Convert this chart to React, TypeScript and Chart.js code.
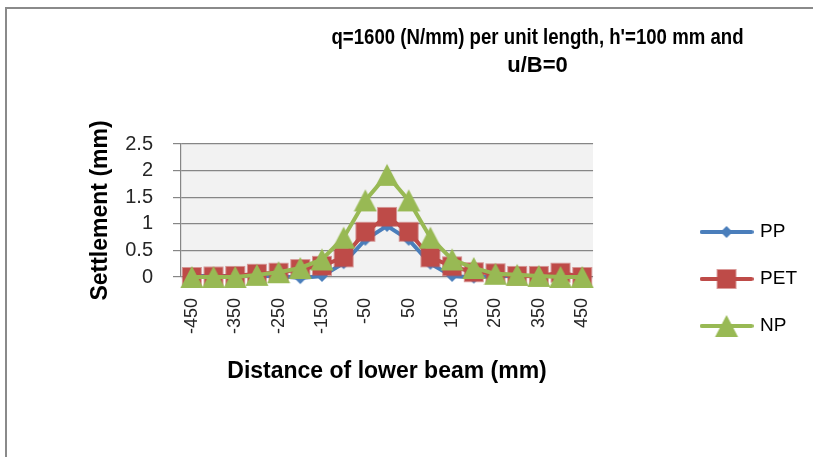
import React, { useEffect, useRef } from "react";
import { Chart, registerables } from "chart.js";

Chart.register(...registerables);

const categories = [
  "-450", "-400", "-350", "-300", "-250", "-200", "-150", "-100", "-50", "0",
  "50", "100", "150", "200", "250", "300", "350", "400", "450",
];
const ppValues = [
  0.02, 0.02, 0.02, 0.02, 0.02, -0.02, 0.02, 0.26, 0.7, 0.96,
  0.7, 0.25, 0.02, -0.01, 0.02, 0.02, 0.02, 0.02, 0.02,
];
const petValues = [
  0.0, 0.01, 0.02, 0.06, 0.08, 0.15, 0.21, 0.37, 0.85, 1.13,
  0.85, 0.37, 0.2, 0.09, 0.07, 0.02, 0.02, 0.08, 0.0,
];
const npValues = [
  0.0, 0.0, 0.0, 0.04, 0.09, 0.17, 0.33, 0.74, 1.44, 1.92,
  1.44, 0.74, 0.33, 0.17, 0.06, 0.04, 0.02, 0.0, 0.0,
];
const seriesNames = ["PP", "PET", "NP"];
const seriesColors = ["#4A7EBB", "#BE4B48", "#98B954"];
const titleLines = ["q=1600 (N/mm) per unit length, h'=100 mm and", "u/B=0"];
const xAxisTitle = "Distance of lower beam (mm)";
const yAxisTitle = "Settlement (mm)";
const yMin = 0;
const yMax = 2.5;
const yStep = 0.5;

const FONT = '"Liberation Sans", Arial, sans-serif';

function makeCanvas(w: number, h: number, draw: (ctx: CanvasRenderingContext2D) => void) {
  const c = document.createElement("canvas");
  c.width = w;
  c.height = h;
  const ctx = c.getContext("2d")!;
  draw(ctx);
  return c;
}

function drawMarker(ctx: CanvasRenderingContext2D, kind: number, cx: number, cy: number, color: string) {
  ctx.fillStyle = color;
  ctx.beginPath();
  if (kind === 0) {
    const r = 6;
    ctx.moveTo(cx, cy - r);
    ctx.lineTo(cx + r, cy);
    ctx.lineTo(cx, cy + r);
    ctx.lineTo(cx - r, cy);
    ctx.closePath();
    ctx.fill();
  } else if (kind === 1) {
    ctx.fillStyle = "rgba(190,75,72,0.55)";
    ctx.fillRect(cx - 10, cy - 10, 20, 20);
    ctx.fillStyle = color;
    ctx.fillRect(cx - 9, cy - 9, 18, 18);
  } else {
    ctx.moveTo(cx, cy - 11);
    ctx.lineTo(cx + 11.5, cy + 11);
    ctx.lineTo(cx - 11.5, cy + 11);
    ctx.closePath();
    ctx.fill();
  }
}

function markerImage(kind: number, color: string) {
  return makeCanvas(24, 24, (ctx) => drawMarker(ctx, kind, 12, 12, color));
}

function legendImage(kind: number, color: string) {
  return makeCanvas(54, 24, (ctx) => {
    ctx.strokeStyle = color;
    ctx.lineWidth = 4;
    ctx.lineCap = "round";
    ctx.beginPath();
    ctx.moveTo(2, 12);
    ctx.lineTo(52, 12);
    ctx.stroke();
    drawMarker(ctx, kind, 27, 12, color);
  });
}

const plotBgPlugin = {
  id: "plotBg",
  beforeDraw(chart: any) {
    const { ctx, chartArea } = chart;
    ctx.save();
    ctx.fillStyle = "#F2F2F2";
    ctx.fillRect(chartArea.left, chartArea.top, chartArea.right - chartArea.left, chartArea.bottom - chartArea.top + 2);
    ctx.restore();
  },
};

const titlePlugin = {
  id: "excelTitle",
  afterDraw(chart: any) {
    const ctx = chart.ctx;
    ctx.save();
    ctx.font = `bold 22px ${FONT}`;
    ctx.fillStyle = "#000";
    ctx.textAlign = "center";
    ctx.textBaseline = "alphabetic";
    ctx.fillText(titleLines[0], 529.5, 33.5, 412);
    ctx.fillText(titleLines[1], 529.5, 62);
    ctx.restore();
  },
};

export default function App() {
  const ref = useRef<HTMLCanvasElement | null>(null);

  useEffect(() => {
    if (!ref.current) return;
    Chart.defaults.font.family = FONT;
    const values = [ppValues, petValues, npValues];
    const markers = seriesNames.map((_, i) => markerImage(i, seriesColors[i]));
    const legendImgs = seriesNames.map((_, i) => legendImage(i, seriesColors[i]));

    const chart = new Chart(ref.current, {
      type: "line",
      data: {
        labels: categories,
        datasets: seriesNames.map((name, i) => ({
          label: name,
          data: values[i],
          borderColor: seriesColors[i],
          backgroundColor: seriesColors[i],
          borderWidth: 4,
          pointStyle: markers[i] as any,
          pointRadius: 10,
          pointHoverRadius: 10,
          tension: 0,
          fill: false,
          clip: false as any,
          order: 2 - i,
        })),
      },
      options: {
        responsive: false,
        animation: false,
        events: [],
        layout: { padding: { left: 79, top: 134, right: 6, bottom: 43 } },
        plugins: {
          title: { display: false },
          tooltip: { enabled: false },
          legend: {
            display: true,
            position: "right",
            align: "center",
            maxWidth: 300,
            labels: {
              usePointStyle: true,
              pointStyleWidth: 48,
              padding: 28,
              color: "#000",
              font: { size: 19, family: FONT },
              sort: (a: any, b: any) => a.datasetIndex - b.datasetIndex,
              generateLabels: (c: any) => {
                const items = (Chart.defaults.plugins.legend.labels as any).generateLabels(c);
                items.forEach((it: any) => {
                  it.pointStyle = legendImgs[it.datasetIndex];
                });
                return items;
              },
            },
          },
        },
        scales: {
          x: {
            type: "category",
            offset: true,
            grid: { display: false, drawTicks: false },
            border: { display: false },
            ticks: {
              autoSkip: false,
              minRotation: 90,
              maxRotation: 90,
              padding: 21,
              color: "#262626",
              font: { size: 18, family: FONT },
              callback: (_v: any, index: number) => (index % 2 === 0 ? categories[index] : ""),
            },
            title: {
              display: true,
              text: xAxisTitle,
              color: "#000",
              font: { size: 23, weight: "bold", family: FONT },
              padding: { top: 0, bottom: 29 },
            },
            afterFit: (s: any) => {
              s.height = 137;
            },
          },
          y: {
            type: "linear",
            position: "left",
            min: yMin,
            max: yMax,
            ticks: {
              stepSize: yStep,
              autoSkip: false,
              padding: 20,
              color: "#262626",
              font: { size: 20, family: FONT },
              callback: (v: any) => String(v),
            },
            grid: { color: "#868686", lineWidth: 1.2, tickLength: 8, drawTicks: true },
            border: { display: true, color: "#868686", width: 1.2 },
            title: {
              display: true,
              text: yAxisTitle,
              color: "#000",
              font: { size: 23, weight: "bold", family: FONT },
              padding: { top: 0, bottom: 0 },
            },
            afterFit: (s: any) => {
              s.width = 94;
            },
          },
          y2: {
            type: "linear",
            position: "right",
            display: true,
            min: yMin,
            max: yMax,
            grid: { display: false, drawTicks: false, drawOnChartArea: false },
            border: { display: false },
            ticks: { display: false },
            title: { display: false },
            afterFit: (s: any) => {
              s.width = 81.5;
            },
          },
        },
      },
      plugins: [plotBgPlugin, titlePlugin],
    } as any);

    return () => chart.destroy();
  }, []);

  return (
    <div
      style={{
        position: "fixed",
        left: 0,
        top: 0,
        width: 813,
        height: 457,
        overflow: "hidden",
        background: "#fff",
      }}
    >
      <div
        style={{
          position: "absolute",
          left: 5,
          top: 7,
          width: 1200,
          height: 900,
          border: "2px solid #8A8A8A",
          boxSizing: "border-box",
        }}
      />
      <canvas
        ref={ref}
        width={805}
        height={447}
        style={{ position: "absolute", left: 8, top: 10, width: 805, height: 447 }}
      />
    </div>
  );
}
